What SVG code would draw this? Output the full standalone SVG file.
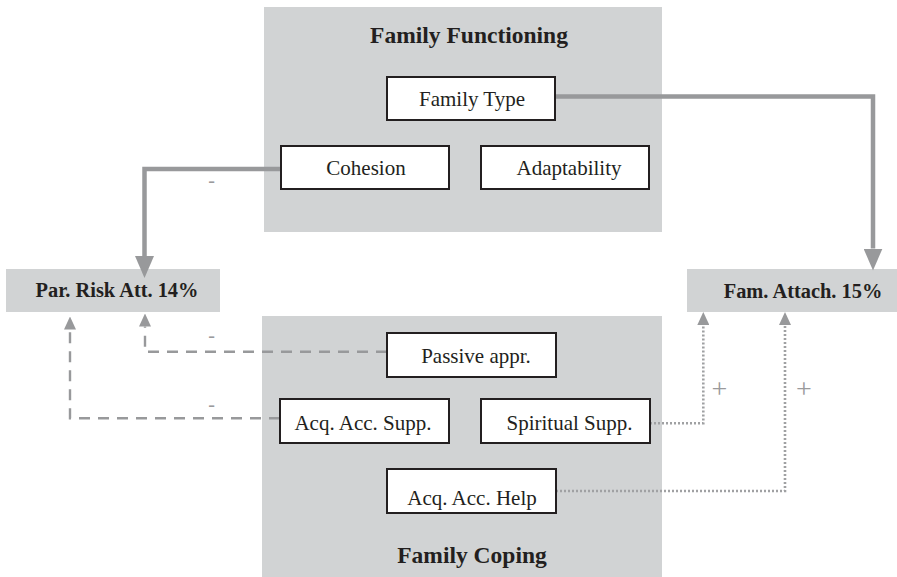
<svg xmlns="http://www.w3.org/2000/svg" width="897" height="577" viewBox="0 0 897 577">
  <style>
    .panel { fill: #d1d3d4; }
    .box { fill: #ffffff; stroke: #231f20; stroke-width: 2; }
    .t { font-family: "Liberation Serif", "Times New Roman", serif; fill: #231f20; text-anchor: middle; }
    .node { font-size: 21px; }
    .title { font-size: 23.5px; font-weight: bold; }
    .outcome { font-size: 20.4px; font-weight: bold; }
    .sign { font-family: "Liberation Serif", "Times New Roman", serif; fill: #9a9a9c; text-anchor: middle; }
    .solid { fill: none; stroke: #98999b; stroke-width: 4.5; }
    .dashed { fill: none; stroke: #98999b; stroke-width: 2.4; stroke-dasharray: 11 8; }
    .dotted { fill: none; stroke: #a0a1a3; stroke-width: 2.6; stroke-dasharray: 2 2; }
  </style>
  <defs>
    <marker id="headBig" markerUnits="userSpaceOnUse" viewBox="0 0 22 19" markerWidth="22" markerHeight="19" refX="0" refY="9.5" orient="auto">
      <path d="M0,0 L22,9.5 L0,19 Z" fill="#98999b"/>
    </marker>
    <marker id="headSmall" markerUnits="userSpaceOnUse" viewBox="0 0 13 12" markerWidth="13" markerHeight="12" refX="0" refY="6" orient="auto">
      <path d="M0,0 L13,6 L0,12 Z" fill="#98999b"/>
    </marker>
  </defs>

  <!-- grouping panels -->
  <g id="family-functioning">
    <rect class="panel" x="264" y="7" width="398" height="225"/>
    <text class="t title" x="469" y="43">Family Functioning</text>
  </g>
  <g id="family-coping">
    <rect class="panel" x="262" y="316" width="400" height="261"/>
    <text class="t title" x="472" y="563">Family Coping</text>
  </g>

  <!-- outcomes -->
  <g id="par-risk">
    <rect class="panel" x="6" y="269" width="214" height="43"/>
    <text class="t outcome" x="117" y="297">Par. Risk Att. 14%</text>
  </g>
  <g id="fam-attach">
    <rect class="panel" x="687" y="269" width="210" height="43"/>
    <text class="t outcome" x="803" y="298">Fam. Attach. 15%</text>
  </g>

  <!-- connectors -->
  <g id="connectors">
    <path class="solid" d="M555,96.5 H873 V248.5" marker-end="url(#headBig)"/>
    <path class="solid" d="M281,169 H144.5 V256" marker-end="url(#headBig)"/>
    <path class="dashed" d="M387,351.7 H145 V326.5" marker-end="url(#headSmall)"/>
    <path class="dashed" d="M280,418.3 H70 V329.5" marker-end="url(#headSmall)"/>
    <path class="dotted" d="M650,423.3 H703.3 V325" marker-end="url(#headSmall)"/>
    <path class="dotted" d="M556,491 H785 V325" marker-end="url(#headSmall)"/>
    <text class="sign" x="211.5" y="186.5" font-size="20">-</text>
    <text class="sign" x="211.5" y="342" font-size="20">-</text>
    <text class="sign" x="211.5" y="410.5" font-size="20">-</text>
    <text class="sign" x="719.5" y="398" font-size="28">+</text>
    <text class="sign" x="804" y="398" font-size="28">+</text>
  </g>

  <!-- variables -->
  <g id="family-type">
    <rect class="box" x="387" y="77" width="168" height="43"/>
    <text class="t node" x="472" y="106">Family Type</text>
  </g>
  <g id="cohesion">
    <rect class="box" x="281" y="146" width="168" height="43"/>
    <text class="t node" x="366" y="175">Cohesion</text>
  </g>
  <g id="adaptability">
    <rect class="box" x="481" y="146" width="168" height="43"/>
    <text class="t node" x="569" y="175">Adaptability</text>
  </g>
  <g id="passive-appr">
    <rect class="box" x="387" y="333" width="169" height="44"/>
    <text class="t node" x="476" y="363">Passive appr.</text>
  </g>
  <g id="acq-acc-supp">
    <rect class="box" x="280" y="399" width="169" height="44"/>
    <text class="t node" x="363" y="430">Acq. Acc. Supp.</text>
  </g>
  <g id="spiritual-supp">
    <rect class="box" x="481" y="399" width="169" height="44"/>
    <text class="t node" x="569.5" y="430">Spiritual Supp.</text>
  </g>
  <g id="acq-acc-help">
    <rect class="box" x="387" y="469" width="169" height="44"/>
    <text class="t node" x="472" y="505">Acq. Acc. Help</text>
  </g>
</svg>
